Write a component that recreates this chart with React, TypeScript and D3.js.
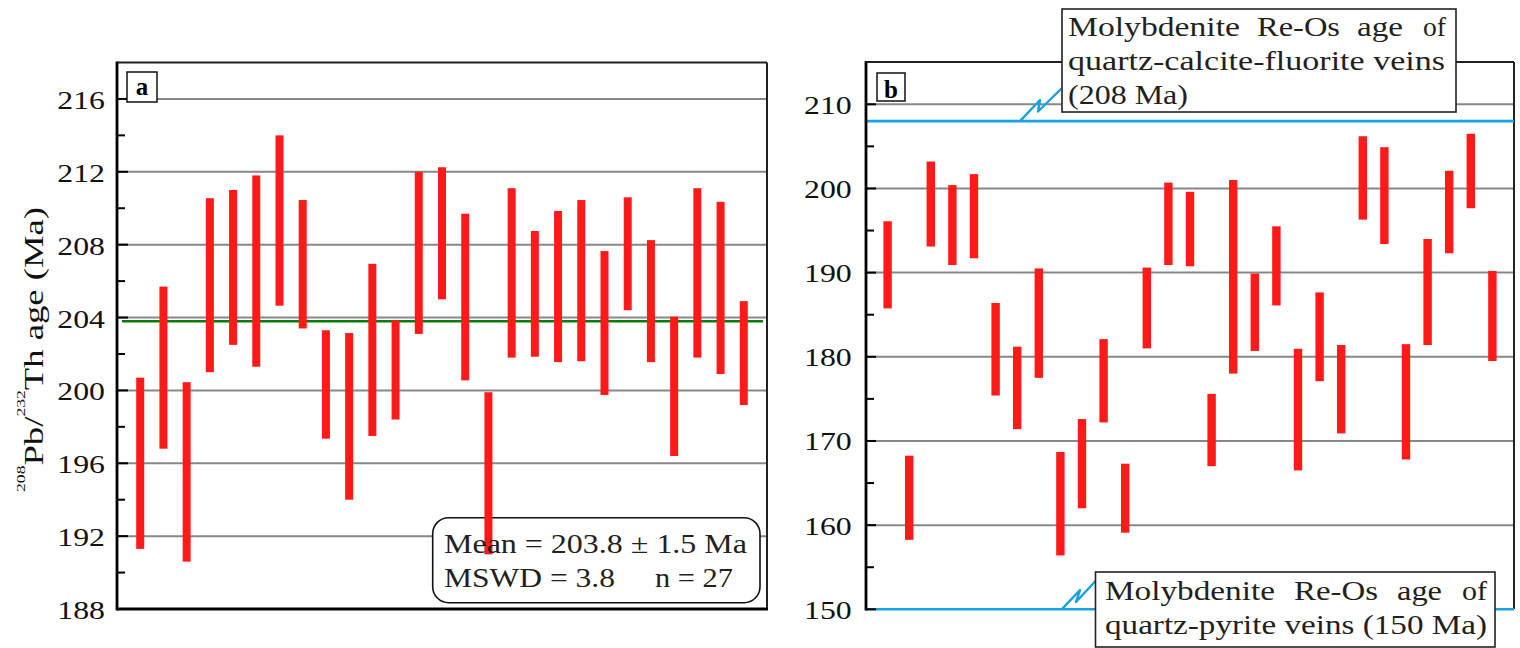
import React from "react";
import * as d3 from "d3";

const FONT = "Liberation Serif";

// Panel a: 208Pb/232Th ages (low, high)
const aLow = [191.3, 196.8, 190.6, 201.0, 202.5, 201.3, 204.65, 203.4, 197.35, 194.0, 197.5, 198.4, 203.1, 205.0, 200.55, 191.0, 201.8, 201.85, 201.55, 201.6, 199.75, 204.4, 201.55, 196.4, 201.8, 200.9, 199.2];
const aHigh = [200.7, 205.7, 200.45, 210.55, 211.0, 211.8, 214.0, 210.45, 203.3, 203.15, 206.95, 203.85, 212.0, 212.25, 209.7, 199.9, 211.1, 208.75, 209.85, 210.45, 207.65, 210.6, 208.25, 204.05, 211.1, 210.35, 204.9];
const aMean = 203.8;
const aMajorTicks = [188, 192, 196, 200, 204, 208, 212, 216];
const aMinorTicks = [190, 194, 198, 202, 206, 210, 214];

// Panel b
const bLow = [185.75, 158.25, 193.1, 190.9, 191.7, 175.4, 171.4, 177.5, 156.4, 162.0, 172.2, 159.1, 181.0, 190.9, 190.75, 167.0, 178.0, 180.7, 186.1, 166.5, 177.1, 170.9, 196.3, 193.4, 167.8, 181.4, 192.3, 197.65, 179.5];
const bHigh = [196.1, 168.25, 203.2, 200.4, 201.7, 186.4, 181.2, 190.5, 168.7, 172.6, 182.1, 167.3, 190.6, 200.7, 199.6, 175.6, 201.0, 189.9, 195.5, 180.95, 187.65, 181.4, 206.2, 204.9, 181.5, 194.0, 202.1, 206.5, 190.2];
const bMajorTicks = [150, 160, 170, 180, 190, 200, 210];
const bMinorTicks = [155, 165, 175, 185, 195, 205];
const bRefUpper = 208;
const bRefLower = 150;

const RED = "#ff1a1a";
const GRID = "#878787";
const BLUE = "#18a0e2";
const TXT = "#231f20";

export default function App() {
  // panel a scales
  const ax = d3.scaleLinear().domain([0, 28]).range([117, 767]);
  const ay = d3.scaleLinear().domain([188, 218]).range([609, 62.5]);
  // panel b scales
  const bx = d3.scaleLinear().domain([0, 30]).range([866, 1514]);
  const by = d3.scaleLinear().domain([150, 215]).range([609.3, 62.2]);

  const aIdx = d3.range(aLow.length);
  const bIdx = d3.range(bLow.length);

  const yTop = by(bRefUpper);
  const yBot = by(bRefLower);

  return (
    <svg
      width={1520}
      height={648}
      style={{ position: "absolute", left: 0, top: 0, background: "#fff" }}
      fontFamily={FONT}
    >
      <rect x={0} y={0} width={1520} height={648} fill="#fff" />

      {/* ================= Panel a ================= */}
      {aMajorTicks.filter((t) => t !== 188).map((t) => (
        <line key={"ag" + t} x1={ax(0)} x2={ax(28)} y1={ay(t)} y2={ay(t)} stroke={GRID} strokeWidth={2} />
      ))}
      {/* mean line */}
      <line x1={122} x2={763} y1={ay(aMean)} y2={ay(aMean)} stroke="#0a7a0a" strokeWidth={2.6} />
      {/* Stats box */}
      <rect x={432.7} y={517.7} width={327.3} height={85} rx={16} ry={16} fill="#fff" stroke="#111" strokeWidth={1.6} />
      {/* bars */}
      {aIdx.map((i) => (
        <rect
          key={"ab" + i}
          x={ax(i + 1) - 4}
          width={8}
          y={ay(aHigh[i])}
          height={ay(aLow[i]) - ay(aHigh[i])}
          fill={RED}
        />
      ))}
      <text x={444} y={552.7} fontSize={27} fill={TXT} textLength={303} lengthAdjust="spacingAndGlyphs">
        Mean = 203.8 ± 1.5 Ma
      </text>
      <text x={444} y={586.7} fontSize={27} fill={TXT} textLength={171} lengthAdjust="spacingAndGlyphs">
        MSWD = 3.8
      </text>
      <text x={655} y={586.7} fontSize={27} fill={TXT} textLength={78} lengthAdjust="spacingAndGlyphs">
        n = 27
      </text>
      {/* frame */}
      <line x1={ax(0)} x2={ax(28)} y1={62.5} y2={62.5} stroke="#222" strokeWidth={2} />
      <line x1={767} x2={767} y1={62.5} y2={609} stroke="#222" strokeWidth={2} />
      <line x1={ax(0)} x2={ax(28) + 1} y1={609} y2={609} stroke="#000" strokeWidth={3} />
      <line x1={117} x2={117} y1={61.5} y2={610.5} stroke="#000" strokeWidth={2.8} />
      {/* ticks */}
      {aMajorTicks.map((t) => (
        <line key={"at" + t} x1={117} x2={128} y1={ay(t)} y2={ay(t)} stroke="#000" strokeWidth={2} />
      ))}
      {aMinorTicks.map((t) => (
        <line key={"amt" + t} x1={117} x2={125} y1={ay(t)} y2={ay(t)} stroke="#000" strokeWidth={2} />
      ))}
      {aMajorTicks.map((t) => (
        <text key={"al" + t} x={57.3} y={ay(t) + 10} fontSize={26} fill="#111" textLength={47.7} lengthAdjust="spacingAndGlyphs">
          {t}
        </text>
      ))}
      {/* panel label a */}
      <rect x={127} y={72} width={30} height={30} fill="#fff" stroke="#111" strokeWidth={1.5} />
      <text x={142} y={95} fontSize={25} fontWeight="bold" textAnchor="middle" fill="#000">a</text>
      {/* y axis title */}
      <text
        transform={`translate(43,349.5) rotate(-90)`}
        textAnchor="middle"
        fill="#111"
        fontSize={27}
        textLength={285}
        lengthAdjust="spacingAndGlyphs"
      >
        <tspan fontSize={13} dy={-18}>208</tspan>
        <tspan fontSize={27} dy={18}>Pb/</tspan>
        <tspan fontSize={13} dy={-18}>232</tspan>
        <tspan fontSize={27} dy={18}>Th age (Ma)</tspan>
      </text>

      {/* ================= Panel b ================= */}
      {bMajorTicks.filter((t) => t !== 150).map((t) => (
        <line key={"bg" + t} x1={bx(0)} x2={bx(30)} y1={by(t)} y2={by(t)} stroke={GRID} strokeWidth={2} />
      ))}
      {bIdx.map((i) => (
        <rect
          key={"bb" + i}
          x={bx(i + 1) - 4.2}
          width={8.4}
          y={by(bHigh[i])}
          height={by(bLow[i]) - by(bHigh[i])}
          fill={RED}
        />
      ))}
      {/* frame */}
      <line x1={bx(0)} x2={bx(30)} y1={62} y2={62} stroke="#222" strokeWidth={2} />
      <line x1={1514} x2={1514} y1={62} y2={609} stroke="#222" strokeWidth={2} />
      {/* reference lines */}
      <line x1={bx(0)} x2={bx(30)} y1={yTop} y2={yTop} stroke={BLUE} strokeWidth={2.6} />
      <line x1={bx(0)} x2={bx(30)} y1={yBot} y2={yBot} stroke={BLUE} strokeWidth={2.6} />
      <path
        d={`M1020,${yTop} L1040,100 L1038,111.5 L1062,88`}
        fill="none"
        stroke={BLUE}
        strokeWidth={2.4}
        strokeLinejoin="round"
      />
      <path
        d={`M1061.7,${yBot} L1080,590 L1076,602 L1096,580.5`}
        fill="none"
        stroke={BLUE}
        strokeWidth={2.4}
        strokeLinejoin="round"
      />
      <line x1={866} x2={866} y1={61} y2={610.5} stroke="#000" strokeWidth={2.8} />
      {bMajorTicks.map((t) => (
        <line key={"bt" + t} x1={866} x2={876} y1={by(t)} y2={by(t)} stroke="#000" strokeWidth={2} />
      ))}
      {bMinorTicks.map((t) => (
        <line key={"bmt" + t} x1={866} x2={874} y1={by(t)} y2={by(t)} stroke="#000" strokeWidth={2} />
      ))}
      {bMajorTicks.map((t) => (
        <text key={"bl" + t} x={804} y={by(t) + 9.5} fontSize={26} fill="#111" textLength={47.7} lengthAdjust="spacingAndGlyphs">
          {t}
        </text>
      ))}
      {/* panel label b */}
      <rect x={877} y={73} width={28} height={28} fill="#fff" stroke="#111" strokeWidth={1.5} />
      <text x={891} y={97.5} fontSize={25} fontWeight="bold" textAnchor="middle" fill="#000">b</text>

      {/* top annotation box */}
      <rect x={1062} y={9} width={394} height={103} fill="#fff" stroke="#222" strokeWidth={1.6} />
      <g fontSize={28} fill={TXT}>
        <text x={1068} y={36} textLength={172} lengthAdjust="spacingAndGlyphs">Molybdenite</text>
        <text x={1257} y={36} textLength={83} lengthAdjust="spacingAndGlyphs">Re-Os</text>
        <text x={1357} y={36} textLength={46} lengthAdjust="spacingAndGlyphs">age</text>
        <text x={1423} y={36} textLength={23} lengthAdjust="spacingAndGlyphs">of</text>
        <text x={1068} y={70} textLength={377} lengthAdjust="spacingAndGlyphs">quartz-calcite-fluorite veins</text>
        <text x={1068} y={103.5} textLength={120} lengthAdjust="spacingAndGlyphs">(208 Ma)</text>
      </g>

      {/* bottom annotation box */}
      <rect x={1095.5} y={572} width={399.5} height={75} fill="#fff" stroke="#222" strokeWidth={1.6} />
      <g fontSize={28} fill={TXT}>
        <text x={1105} y={599.5} textLength={170} lengthAdjust="spacingAndGlyphs">Molybdenite</text>
        <text x={1294} y={599.5} textLength={84} lengthAdjust="spacingAndGlyphs">Re-Os</text>
        <text x={1397} y={599.5} textLength={45} lengthAdjust="spacingAndGlyphs">age</text>
        <text x={1462} y={599.5} textLength={25} lengthAdjust="spacingAndGlyphs">of</text>
        <text x={1105} y={633.5} textLength={382} lengthAdjust="spacingAndGlyphs">quartz-pyrite veins (150 Ma)</text>
      </g>
    </svg>
  );
}
